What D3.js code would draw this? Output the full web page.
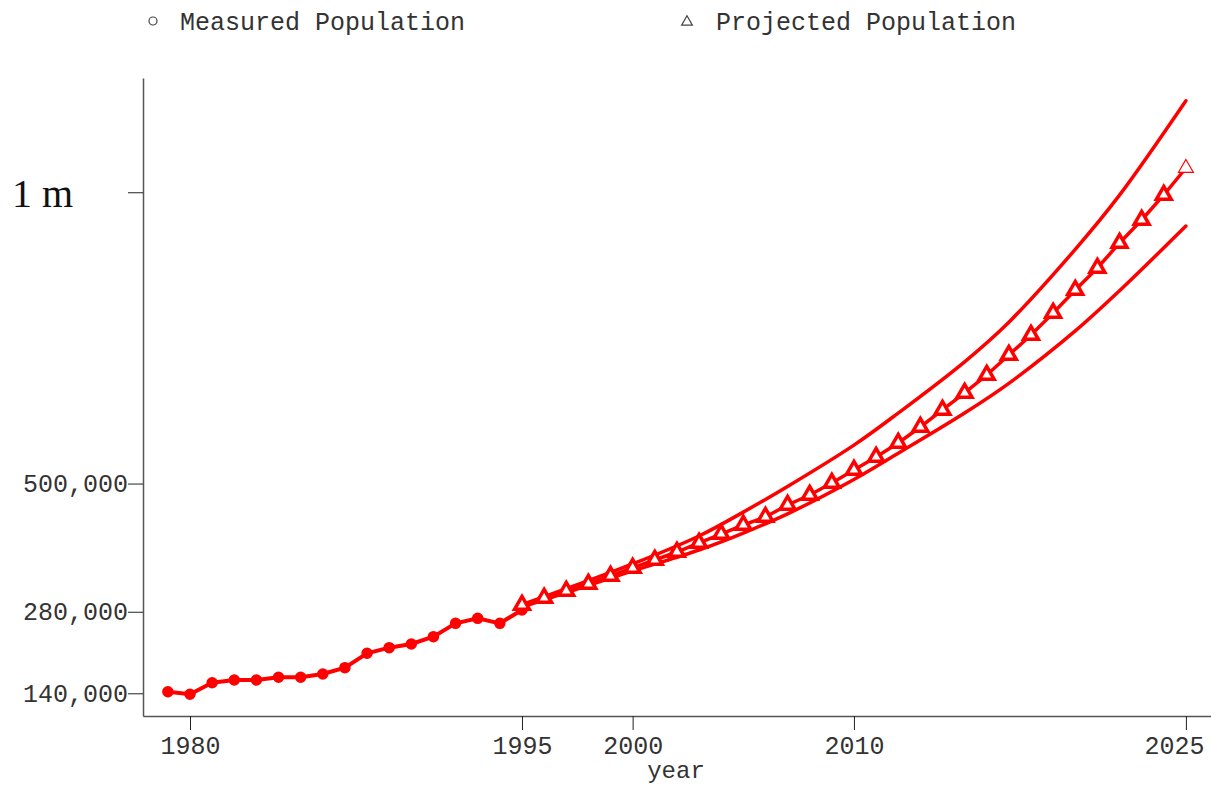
<!DOCTYPE html>
<html>
<head>
<meta charset="utf-8">
<script src="https://cdn.jsdelivr.net/npm/d3@7"></script>
<style>
  body { margin: 0; background: #fff; }
  svg { display: block; }
</style>
</head>
<body>
<div id="chart"></div>
<script>
// population data
var measuredYears = [1979, 1980, 1981, 1982, 1983, 1984, 1985, 1986, 1987, 1988, 1989, 1990, 1991, 1992, 1993, 1994, 1995];
var measuredPop = [142700, 138300, 158200, 162800, 162800, 167500, 167500, 173100, 184000, 208700, 218300, 224600, 237200, 260100, 268700, 260100, 283000];

var projYears = [1995, 1996, 1997, 1998, 1999, 2000, 2001, 2002, 2003, 2004, 2005, 2006, 2007, 2008, 2009, 2010,
  2011, 2012, 2013, 2014, 2015, 2016, 2017, 2018, 2019, 2020, 2021, 2022, 2023, 2024, 2025];
var projPop = [291600, 303600, 315600, 327600, 341300, 355100, 368800, 382500, 398000, 413400, 428900, 442600,
  463200, 480400, 501000, 523300, 545600, 569600, 597100, 626300, 655500, 686300, 720700, 755000, 792800,
  832300, 870000, 912900, 952400, 995300, 1041600];

// upper / lower band of the projection
var bandYears = [1995, 2000, 2003, 2005, 2007, 2010, 2012, 2015, 2017, 2020, 2022, 2025];
var upperPop = [292000, 362000, 410000, 451000, 495000, 566000, 621000, 709000, 777000, 902000, 995000, 1157000];
var lowerPop = [288000, 350000, 386000, 415000, 448000, 507000, 552000, 621000, 672000, 762000, 831000, 942000];

var xTicks = [1980, 1995, 2000, 2010, 2025];
var yTicks = [140000, 280000, 500000, 1000000];
var yTickLabels = ["140,000", "280,000", "500,000", "1 m"];

var svgWidth = 1211;
var svgHeight = 786;
var mono = "'Liberation Mono', 'DejaVu Sans Mono', monospace";
var red = "#ff0000";
var ink = "#333";

var svg = d3.select("#chart")
  .append("svg")
  .attr("width", svgWidth)
  .attr("height", svgHeight);

// scales (plot frame: x 143..1211, y 78..716)
var x = d3.scaleLinear().domain([1977.876, 2026.134]).range([143, 1211]);
var y = d3.scaleLinear().domain([101040, 1196100]).range([716, 78]);

// axes
var xAxis = svg.append("g")
  .attr("transform", "translate(0,716)")
  .call(d3.axisBottom(x).tickValues(xTicks).tickFormat(d3.format("d")).tickSize(14).tickSizeOuter(0).tickPadding(6));
xAxis.select(".domain").attr("stroke", "#555").attr("stroke-width", 1.5);
xAxis.selectAll(".tick line").attr("stroke", "#222");
xAxis.selectAll(".tick text")
  .attr("fill", ink)
  .style("font-family", mono)
  .style("font-size", "25px");
// keep the last year inside the frame
xAxis.selectAll(".tick text")
  .filter(function(d) { return d === 2025; })
  .attr("dx", -12);

var yAxis = svg.append("g")
  .attr("transform", "translate(143,0)")
  .call(d3.axisLeft(y).tickValues(yTicks).tickFormat(function(d, i) { return yTickLabels[i]; })
    .tickSize(15).tickSizeOuter(0).tickPadding(0));
yAxis.select(".domain").attr("stroke", "#555").attr("stroke-width", 1.5);
yAxis.selectAll(".tick line").attr("stroke", "#222");
yAxis.selectAll(".tick text")
  .attr("fill", ink)
  .style("font-family", mono)
  .style("font-size", "25px");
// the 1 m label is set in a big serif face
yAxis.selectAll(".tick text")
  .filter(function(d) { return d === 1000000; })
  .attr("x", -70)
  .attr("dy", "0.35em")
  .attr("fill", "#111")
  .style("font-family", "'Liberation Serif', 'DejaVu Serif', serif")
  .style("font-size", "40px");

// axis title
svg.append("text")
  .attr("x", 676)
  .attr("y", 778)
  .attr("text-anchor", "middle")
  .attr("fill", ink)
  .style("font-family", mono)
  .style("font-size", "24px")
  .text("year");

// lines
var line = d3.line()
  .x(function(d) { return x(d[0]); })
  .y(function(d) { return y(d[1]); });
var smooth = d3.line()
  .x(function(d) { return x(d[0]); })
  .y(function(d) { return y(d[1]); })
  .curve(d3.curveCatmullRom.alpha(0.5));

var upperData = d3.zip(bandYears, upperPop);
var lowerData = d3.zip(bandYears, lowerPop);
var projData = d3.zip(projYears, projPop);
var measData = d3.zip(measuredYears, measuredPop);

[upperData, lowerData].forEach(function(dd) {
  svg.append("path")
    .datum(dd)
    .attr("d", smooth)
    .attr("fill", "none")
    .attr("stroke", red)
    .attr("stroke-width", 3.5)
    .attr("stroke-linecap", "round");
});

svg.append("path")
  .datum(projData)
  .attr("d", line)
  .attr("fill", "none")
  .attr("stroke", red)
  .attr("stroke-width", 3.5);

svg.append("path")
  .datum(measData)
  .attr("d", line)
  .attr("fill", "none")
  .attr("stroke", red)
  .attr("stroke-width", 4);

// measured points
svg.selectAll("circle.meas")
  .data(measData)
  .enter()
  .append("circle")
  .attr("class", "meas")
  .attr("cx", function(d) { return x(d[0]); })
  .attr("cy", function(d) { return y(d[1]); })
  .attr("r", 5)
  .attr("fill", red)
  .attr("stroke", red)
  .attr("stroke-width", 1.5);

// projected triangles
var tri = d3.symbol().type(d3.symbolTriangle).size(95);
svg.selectAll("path.proj")
  .data(projData)
  .enter()
  .append("path")
  .attr("class", "proj")
  .attr("d", tri)
  .attr("transform", function(d) { return "translate(" + x(d[0]) + "," + y(d[1]) + ")"; })
  .attr("fill", "#fff")
  .attr("stroke", red)
  .attr("stroke-width", function(d, i) { return i === projData.length - 1 ? 1.2 : 3.5; });

// legend
var legend = svg.append("g");
legend.append("circle")
  .attr("cx", 153)
  .attr("cy", 21)
  .attr("r", 4)
  .attr("fill", "none")
  .attr("stroke", "#444")
  .attr("stroke-width", 1.2);
legend.append("text")
  .attr("x", 180)
  .attr("y", 30)
  .attr("fill", ink)
  .style("font-family", mono)
  .style("font-size", "25px")
  .text("Measured Population");
legend.append("path")
  .attr("d", d3.symbol().type(d3.symbolTriangle).size(50)())
  .attr("transform", "translate(687,22)")
  .attr("fill", "none")
  .attr("stroke", "#444")
  .attr("stroke-width", 1.2);
legend.append("text")
  .attr("x", 716)
  .attr("y", 30)
  .attr("fill", ink)
  .style("font-family", mono)
  .style("font-size", "25px")
  .text("Projected Population");
</script>
</body>
</html>
